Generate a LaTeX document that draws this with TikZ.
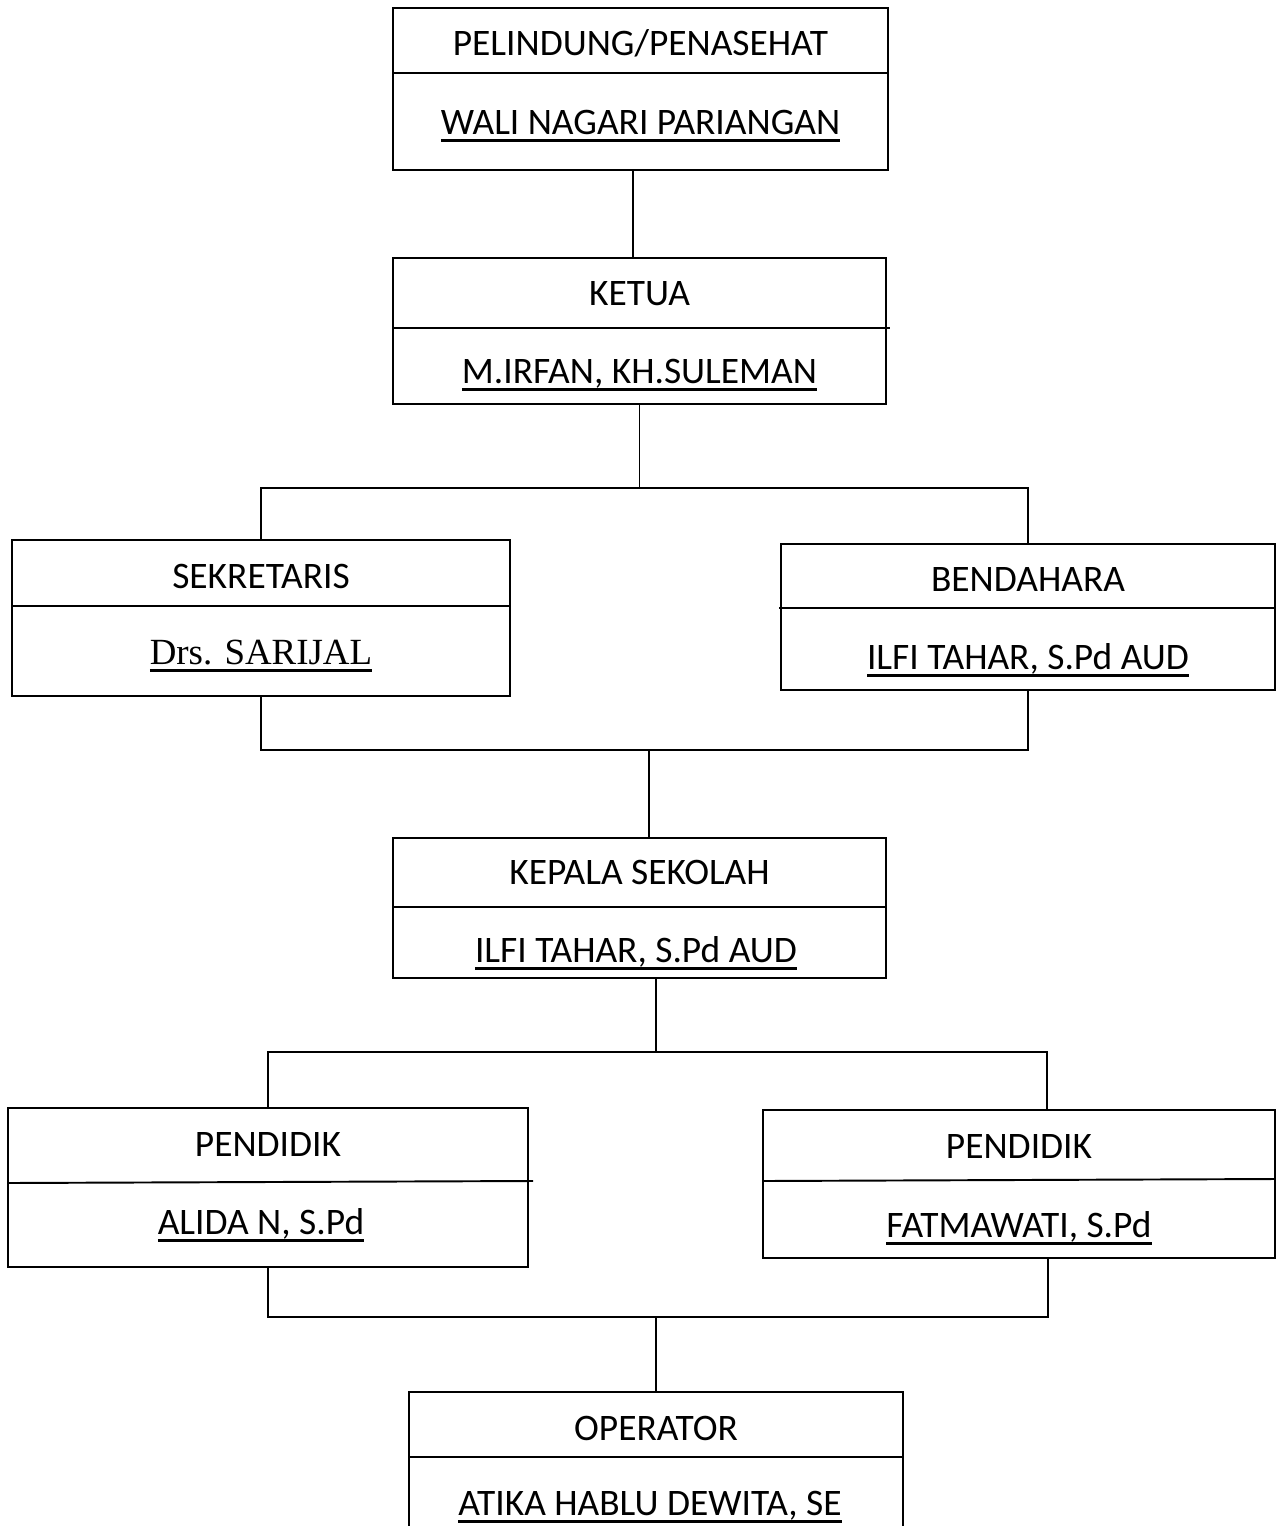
\documentclass[tikz,border=0pt]{standalone}
\usepackage{fontspec}
\setmainfont{Carlito}
\newfontfamily\serifname{Liberation Serif}
\usetikzlibrary{positioning, calc}

\newsavebox{\namebox}
\newcommand{\nameline}[1]{\sbox{\namebox}{#1}\rlap{\rule[-4.4pt]{\wd\namebox}{1.4pt}}\usebox{\namebox}}

\begin{document}
\begin{tikzpicture}[
    x=0.02cm, y=-0.02cm,
    orgbox/.style={rectangle, draw, line width=1.1pt},
    role/.style={font=\fontsize{21.3}{25}\selectfont, inner sep=0pt, anchor=base},
    link/.style={line width=1.1pt}
]

\useasboundingbox (0,0) rectangle (1284,1526);
\clip (0,0) rectangle (1284,1526);

% Pelindung / Penasehat
\node[orgbox, minimum width=9.9cm, minimum height=3.24cm] (pel) at (640.5,89) {};
\draw[link] (pel.west |- 0,73) -- (pel.east |- 0,73);
\node[role] (pelT) at (640.5,55) {PELINDUNG/PENASEHAT};
\node[role] (pelN) at (640.5,134) {\nameline{WALI NAGARI PARIANGAN}};

% Ketua
\node[orgbox, minimum width=9.86cm, minimum height=2.92cm] (ketua) at (639.5,331) {};
\draw[link] (ketua.west |- 0,328) -- (890,328);
\node[role] (ketuaT) at (639.5,305) {KETUA};
\node[role] (ketuaN) at (639.5,383) {\nameline{M.IRFAN, KH.SULEMAN}};

% Sekretaris
\node[orgbox, minimum width=9.96cm, minimum height=3.12cm] (sek) at (261,618) {};
\draw[link] (sek.west |- 0,606) -- (sek.east |- 0,606);
\node[role] (sekT) at (261,588) {SEKRETARIS};
\node[role, font=\serifname\fontsize{21}{25}\selectfont] (sekN) at (261,664) {\nameline{Drs. SARIJAL}};

% Bendahara
\node[orgbox, minimum width=9.88cm, minimum height=2.92cm] (ben) at (1028,617) {};
\draw[link] (779,608) -- (ben.east |- 0,608);
\node[role] (benT) at (1028,591) {BENDAHARA};
\node[role] (benN) at (1028,669) {\nameline{ILFI TAHAR, S.Pd AUD}};

% Kepala Sekolah
\node[orgbox, minimum width=9.86cm, minimum height=2.8cm] (kep) at (639.5,908) {};
\draw[link] (kep.west |- 0,907) -- (kep.east |- 0,907);
\node[role] (kepT) at (639.5,884) {KEPALA SEKOLAH};
\node[role] (kepN) at (636,962) {\nameline{ILFI TAHAR, S.Pd AUD}};

% Pendidik (kiri dan kanan)
\node[orgbox, minimum width=10.4cm, minimum height=3.18cm] (pen1) at (268,1187.5) {};
\draw[link] (pen1.west |- 0,1183) -- (533,1181);
\node[role] (pen1T) at (268,1156) {PENDIDIK};
\node[role] (pen1N) at (261,1234) {\nameline{ALIDA N, S.Pd}};

\node[orgbox, minimum width=10.24cm, minimum height=2.96cm] (pen2) at (1019,1184) {};
\draw[link] (pen2.west |- 0,1181) -- (pen2.east |- 0,1179);
\node[role] (pen2T) at (1019,1158) {PENDIDIK};
\node[role] (pen2N) at (1019,1237) {\nameline{FATMAWATI, S.Pd}};

% Operator
\node[orgbox, minimum width=9.88cm, minimum height=3.36cm] (op) at (656,1476) {};
\draw[link] (op.west |- 0,1457) -- (op.east |- 0,1457);
\node[role] (opT) at (656,1440) {OPERATOR};
\node[role] (opN) at (650,1515) {\nameline{ATIKA HABLU DEWITA, SE}};

% Garis penghubung
\coordinate (topJ) at (633,170);
\coordinate (busA) at (641,488);
\coordinate (busB) at (649,750);
\coordinate (busC) at (656,1052);
\coordinate (busCr) at (1047,1052);
\coordinate (busD) at (656,1317);
\coordinate (busDr) at (1048,1317);

\draw[link] (pel.south -| topJ) -- (ketua.north -| topJ);
\draw[link] (ketua.south) -- (ketua.south |- busA);
\draw[link] (sek.north) |- (busA) -| (ben.north);
\draw[link] (sek.south) |- (busB) -| (ben.south);
\draw[link] (busB) -- (busB |- kep.north);
\draw[link] (busC |- kep.south) -- (busC);
\draw[link] (pen1.north) |- (busCr) -- (busCr |- pen2.north);
\draw[link] (pen1.south) |- (busDr) -- (busDr |- pen2.south);
\draw[link] (busD) -- (op.north);

\end{tikzpicture}
\end{document}
